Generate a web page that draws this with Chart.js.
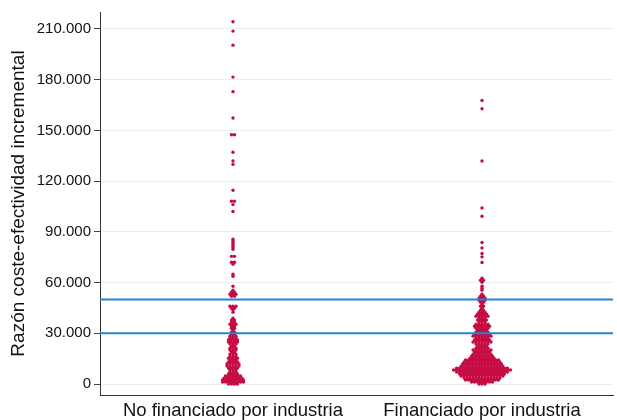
<!DOCTYPE html>
<html><head><meta charset="utf-8">
<script src="https://cdn.jsdelivr.net/npm/chart.js@4/dist/chart.umd.min.js"></script>
<style>html,body{margin:0;padding:0;background:#fff}canvas{display:block}</style>
</head><body>
<canvas id="c" width="617" height="420"></canvas>
<script>
// ---- data ----
const categories = ["No financiado por industria", "Financiado por industria"];
const yTickValues = [0, 30000, 60000, 90000, 120000, 150000, 180000, 210000];
const thresholdValues = [30000, 50000];

// Not industry funded: ICER row values (euros) and number of studies in each row
const noIndRowValues = [0,1200,2400,3500,4700,5900,7100,8300,9400,10600,11800,13000,14200,15300,16500,17700,18900,20100,21200,22400,23600,24800,26000,27100,28300,29500,30700,31900,33000,34200,35400,36600,37800,38900,42500,43700,44800,46000,51900,53100,54300,55500,57800,63700,64900,70800,72000,75500,79700,80900,82100,83300,84400,85600,102000,106100,108100,114600,129900,131900,137100,147400,157300,172900,181500,200400,208700,214200];
const noIndRowCounts = [4,8,8,7,6,4,3,3,4,5,5,4,3,4,3,3,2,3,3,2,3,4,4,3,3,2,2,1,2,2,3,2,2,1,1,1,2,3,2,3,2,1,1,1,1,1,2,2,1,1,1,1,1,1,1,1,2,1,1,1,1,2,1,1,1,1,1,1];

// Industry funded
const indRowValues = [0,1200,2400,3500,4700,5900,7100,8300,9400,10600,11800,13000,14200,15300,16500,17700,18900,20100,21200,22400,23600,24800,26000,27100,28300,29500,30700,31900,33000,34200,35400,36600,37800,38900,40100,41300,42500,43700,44800,46000,47200,48400,49600,50700,51900,53100,55500,56600,57800,60200,61400,62500,71900,75200,77200,80500,83700,99200,104100,131900,162800,167700];
const indRowCounts = [3,8,12,13,15,16,18,20,18,15,14,13,12,9,8,7,6,7,5,4,5,7,6,5,7,6,5,4,5,6,5,3,4,3,5,4,3,2,1,2,1,2,3,3,2,1,1,1,1,1,2,1,1,1,1,1,1,1,1,1,1,1];

// ---- layout helpers ----
const X_MIN = 0.466, X_MAX = 2.526;
const DOT_GAP = 0.012; // horizontal gap between stacked dots (x units)
function buildDots(pos, values, counts) {
  const pts = [];
  values.forEach((v, r) => {
    const n = counts[r];
    for (let i = 0; i < n; i++) pts.push({x: pos + (i - (n - 1) / 2) * DOT_GAP, y: v});
  });
  return pts;
}
const fmt = v => String(v).replace(/\B(?=(\d{3})+(?!\d))/g, '.');
const FONT = "'Liberation Sans', Arial, Helvetica, sans-serif";
const dotColor = '#c60a42';
const lineColor = '#2683cc';

const datasets = [];
thresholdValues.forEach(t => datasets.push({
  type: 'line', data: [{x: X_MIN, y: t}, {x: X_MAX, y: t}],
  borderColor: lineColor, borderWidth: 2, pointRadius: 0, order: 0
}));
datasets.push({type: 'scatter', data: buildDots(1, noIndRowValues, noIndRowCounts),
  backgroundColor: dotColor, borderWidth: 0, pointRadius: 1.7, order: 1});
datasets.push({type: 'scatter', data: buildDots(2, indRowValues, indRowCounts),
  backgroundColor: dotColor, borderWidth: 0, pointRadius: 1.7, order: 1});

new Chart(document.getElementById('c'), {
  type: 'scatter',
  data: {datasets},
  options: {
    responsive: false, animation: false, devicePixelRatio: 1,
    layout: {padding: {top: 12, right: 0, left: 0, bottom: 0}},
    plugins: {legend: {display: false}, tooltip: {enabled: false}},
    scales: {
      x: {
        type: 'linear', min: X_MIN, max: X_MAX,
        afterBuildTicks: s => { s.ticks = [{value: 1}, {value: 2}]; },
        afterFit: s => { s.height = 25; },
        grid: {display: false, drawTicks: false},
        border: {display: true, color: '#333', width: 1},
        ticks: {padding: 5, color: '#111', font: {family: FONT, size: 18.5},
          callback: v => categories[Math.round(v) - 1] || ''}
      },
      y: {
        type: 'linear', min: -6500, max: 220000,
        afterBuildTicks: s => { s.ticks = yTickValues.map(v => ({value: v})); },
        afterFit: s => { s.width = 100; },
        grid: {color: '#e8eef2', lineWidth: 1, drawTicks: true, tickLength: 6, tickColor: '#444'},
        border: {display: true, color: '#333', width: 1},
        ticks: {padding: 3, color: '#111', font: {family: FONT, size: 15}, callback: v => fmt(v)},
        title: {display: true, text: 'Razón coste-efectividad incremental', color: '#111',
          font: {family: FONT, size: 19}, padding: {top: 7, bottom: 0}}
      }
    }
  }
});
</script>
</body></html>
